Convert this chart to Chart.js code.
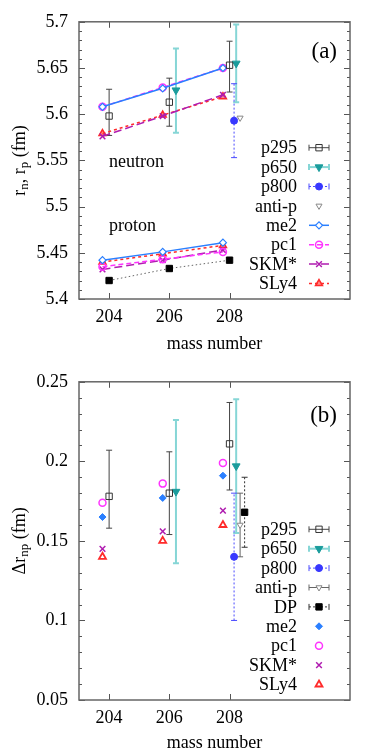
<!DOCTYPE html>
<html>
<head>
<meta charset="utf-8">
<script src="https://cdn.jsdelivr.net/npm/chart.js@4/dist/chart.umd.min.js"></script>
<style>
body { margin: 0; background: #fff; }
canvas { display: block; }
</style>
</head>
<body>
<canvas id="panelA" width="382" height="360"></canvas>
<canvas id="panelB" width="382" height="396"></canvas>
<script>
var massNumbers = [204, 206, 208];
var xTicks = [204, 206, 208];
var p650Mass = [206, 208];
var mass208 = [208];

// (a) neutron and proton radii (fm)
var rYTicks = [5.4, 5.45, 5.5, 5.55, 5.6, 5.65, 5.7];
var p295Rn = [5.598, 5.613, 5.653];
var p295RnLo = [5.577, 5.587, 5.624];
var p295RnHi = [5.627, 5.639, 5.679];
var p650Rn = [5.626, 5.655];
var p650RnLo = [5.580, 5.613];
var p650RnHi = [5.671, 5.697];
var p800Rn = [5.593];
var p800RnLo = [5.553];
var p800RnHi = [5.633];
var antipRn = [5.596];
var me2Rn = [5.608, 5.628, 5.650];
var pc1Rn = [5.608, 5.629, 5.650];
var skmRn = [5.576, 5.598, 5.621];
var sly4Rn = [5.579, 5.599, 5.619];
var expRp = [5.420, 5.433, 5.442];
var me2Rp = [5.442, 5.451, 5.461];
var pc1Rp = [5.435, 5.443, 5.451];
var skmRp = [5.432, 5.442, 5.453];
var sly4Rp = [5.440, 5.449, 5.458];

// (b) neutron skin thickness (fm)
var dYTicks = [0.05, 0.1, 0.15, 0.2, 0.25];
var p295Dr = [0.178, 0.180, 0.211];
var p295DrLo = [0.158, 0.154, 0.182];
var p295DrHi = [0.207, 0.206, 0.237];
var p650Dr = [0.181, 0.197];
var p650DrLo = [0.136, 0.155];
var p650DrHi = [0.226, 0.239];
var p800Dr = [0.140];
var p800DrLo = [0.100];
var p800DrHi = [0.180];
var antipDr = [0.160];
var antipDrLo = [0.140];
var antipDrHi = [0.180];
var dpDr = [0.168];
var dpDrLo = [0.146];
var dpDrHi = [0.190];
var me2Dr = [0.165, 0.177, 0.191];
var pc1Dr = [0.174, 0.186, 0.199];
var skmDr = [0.145, 0.156, 0.169];
var sly4Dr = [0.140, 0.150, 0.160];

var FONT = "'Liberation Serif', 'Times New Roman', serif";

function pts(masses, values, shift) {
  return masses.map(function (m, i) { return { x: m + shift, y: values[i] }; });
}

// vertical error bars, drawn under the markers
var errorBars = {
  id: 'errorBars',
  beforeDatasetsDraw: function (chart) {
    var ctx = chart.ctx, ys = chart.scales.y;
    chart.data.datasets.forEach(function (ds, i) {
      if (!ds.errLo) return;
      ctx.save();
      ctx.strokeStyle = ds.errColor;
      ctx.lineWidth = ds.errWidth || 1;
      chart.getDatasetMeta(i).data.forEach(function (pt, j) {
        var x = pt.x, y1 = ys.getPixelForValue(ds.errLo[j]), y2 = ys.getPixelForValue(ds.errHi[j]);
        ctx.setLineDash(ds.errDash || []);
        ctx.beginPath();
        ctx.moveTo(x, y1); ctx.lineTo(x, y2);
        ctx.stroke();
        ctx.setLineDash([]);
        ctx.beginPath();
        ctx.moveTo(x - 3, y1); ctx.lineTo(x + 3, y1);
        ctx.moveTo(x - 3, y2); ctx.lineTo(x + 3, y2);
        ctx.stroke();
      });
      ctx.restore();
    });
  }
};

// gnuplot style box with inward ticks on all sides
var frame = {
  id: 'frame',
  afterDatasetsDraw: function (chart) {
    var ctx = chart.ctx, a = chart.chartArea, xs = chart.scales.x, ys = chart.scales.y;
    ctx.save();
    ctx.strokeStyle = '#555';
    ctx.lineWidth = 1;
    ctx.beginPath();
    xs.ticks.forEach(function (t) {
      var px = Math.round(xs.getPixelForValue(t.value)) + 0.5;
      ctx.moveTo(px, a.bottom); ctx.lineTo(px, a.bottom - 6);
      ctx.moveTo(px, a.top); ctx.lineTo(px, a.top + 6);
    });
    var n = Math.round((ys.max - ys.min) / 0.01);
    for (var k = 0; k <= n; k++) {
      var major = k % 5 === 0;
      var py = Math.round(ys.getPixelForValue(ys.min + k * 0.01)) + 0.5;
      var len = major ? 6 : 3;
      ctx.moveTo(a.left, py); ctx.lineTo(a.left + len, py);
      ctx.moveTo(a.right, py); ctx.lineTo(a.right - len, py);
    }
    ctx.stroke();
    ctx.lineWidth = 1.5;
    ctx.strokeStyle = '#666';
    ctx.strokeRect(a.left, a.top, a.right - a.left, a.bottom - a.top);
    ctx.restore();
  }
};

// key inside the plot, text right aligned, sample on the right
var key = {
  id: 'key',
  afterDraw: function (chart) {
    var ctx = chart.ctx, a = chart.chartArea;
    var items = [];
    chart.data.datasets.forEach(function (ds, i) { if (ds.label) items.push(i); });
    var n = items.length;
    ctx.save();
    items.forEach(function (i, k) {
      var ds = chart.data.datasets[i];
      var yy = a.bottom - 15.5 - (n - 1 - k) * 19.4;
      var x1 = a.right - 41, x2 = a.right - 21, xc = (x1 + x2) / 2;
      ctx.font = '18px ' + FONT;
      ctx.fillStyle = '#000';
      ctx.textAlign = 'right';
      ctx.textBaseline = 'middle';
      ctx.fillText(ds.label, a.right - 53, yy + 1);
      if (ds.errLo) {
        ctx.strokeStyle = ds.errColor;
        ctx.lineWidth = ds.errWidth || 1;
        ctx.setLineDash(ds.errDash || []);
        ctx.beginPath(); ctx.moveTo(x1, yy); ctx.lineTo(x2, yy); ctx.stroke();
        ctx.setLineDash([]);
        ctx.beginPath();
        ctx.moveTo(x1, yy - 3); ctx.lineTo(x1, yy + 3);
        ctx.moveTo(x2, yy - 3); ctx.lineTo(x2, yy + 3);
        ctx.stroke();
      } else if (ds.showLine) {
        ctx.strokeStyle = ds.borderColor;
        ctx.lineWidth = ds.borderWidth;
        ctx.setLineDash(ds.borderDash || []);
        ctx.beginPath(); ctx.moveTo(x1, yy); ctx.lineTo(x2, yy); ctx.stroke();
      }
      var o = chart.getDatasetMeta(i).data[0].options;
      ctx.setLineDash([]);
      ctx.fillStyle = o.backgroundColor;
      ctx.strokeStyle = o.borderColor;
      ctx.lineWidth = o.borderWidth;
      Chart.helpers.drawPoint(ctx, o, xc, yy);
    });
    ctx.restore();
  }
};

function notes(tag, tagDy, yTitle, texts) {
  return {
    id: 'notes',
    afterDraw: function (chart) {
      var ctx = chart.ctx, a = chart.chartArea, xs = chart.scales.x, ys = chart.scales.y;
      ctx.save();
      ctx.fillStyle = '#000';
      ctx.textBaseline = 'middle';
      ctx.font = '23px ' + FONT;
      ctx.textAlign = 'right';
      ctx.fillText(tag, a.right - 13, a.top + tagDy);
      ctx.font = '18px ' + FONT;
      ctx.textAlign = 'left';
      texts.forEach(function (t) {
        ctx.fillText(t[0], xs.getPixelForValue(t[1]), ys.getPixelForValue(t[2]));
      });
      // rotated y title with subscripts
      var total = 0;
      yTitle.forEach(function (p) {
        ctx.font = (p[1] ? '13px ' : '18px ') + FONT;
        total += ctx.measureText(p[0]).width;
      });
      ctx.translate(20, (a.top + a.bottom) / 2);
      ctx.rotate(-Math.PI / 2);
      var x = -total / 2;
      yTitle.forEach(function (p) {
        ctx.font = (p[1] ? '13px ' : '18px ') + FONT;
        ctx.fillText(p[0], x, p[1] ? 5 : 0);
        x += ctx.measureText(p[0]).width;
      });
      ctx.restore();
    }
  };
}

function scales(yMin, yMax, yTicks, xTitlePad, xHeight) {
  return {
    x: {
      type: 'linear', min: 203, max: 212,
      afterBuildTicks: function (s) { s.ticks = xTicks.map(function (v) { return { value: v }; }); },
      afterFit: function (s) { s.height = xHeight; },
      grid: { display: false, drawTicks: false }, border: { display: false },
      ticks: { color: '#000', padding: 7, font: { family: FONT, size: 18 }, callback: function (v) { return String(v); } },
      title: { display: true, text: 'mass number', color: '#000', font: { family: FONT, size: 18 }, padding: { top: 0, bottom: xTitlePad } }
    },
    y: {
      type: 'linear', min: yMin, max: yMax,
      afterBuildTicks: function (s) { s.ticks = yTicks.map(function (v) { return { value: v }; }); },
      afterFit: function (s) { s.width = 79; },
      grid: { display: false, drawTicks: false }, border: { display: false },
      ticks: { color: '#000', padding: 11, font: { family: FONT, size: 18 }, callback: function (v) { return String(+v.toFixed(3)); } }
    }
  };
}

var base = {
  responsive: false,
  animation: false,
  events: [],
  layout: { padding: { left: 0, right: 32, top: 20, bottom: 0 } },
  plugins: { legend: { display: false }, tooltip: { enabled: false } }
};

function opts(extra) { return Object.assign({}, base, extra); }

var SH = -0.22;   // theory points drawn left of the mass number
var BLUE = '#2a7fff', MAG = '#ff33ff', PUR = '#b01cb0', RED = '#ff2a2a', TEAL = '#1a9c9c';

new Chart('panelA', {
  type: 'line',
  data: {
    datasets: [
      { label: 'p295', data: pts(massNumbers, p295Rn, 0), showLine: false, pointStyle: 'rect', pointRadius: 4.5,
        pointBorderColor: '#333', pointBackgroundColor: 'rgba(0,0,0,0)', pointBorderWidth: 1,
        errLo: p295RnLo, errHi: p295RnHi, errColor: '#444', errWidth: 1 },
      { label: 'p650', data: pts(p650Mass, p650Rn, 0.22), showLine: false, pointStyle: 'triangle', pointRotation: 180, pointRadius: 4.5,
        pointBorderColor: TEAL, pointBackgroundColor: TEAL, pointBorderWidth: 1,
        errLo: p650RnLo, errHi: p650RnHi, errColor: '#86d6d6', errWidth: 2 },
      { label: 'p800', data: pts(mass208, p800Rn, 0.15), showLine: false, pointStyle: 'circle', pointRadius: 3.5,
        pointBorderColor: '#3838ff', pointBackgroundColor: '#3838ff', pointBorderWidth: 1,
        errLo: p800RnLo, errHi: p800RnHi, errColor: '#4a4aff', errWidth: 1, errDash: [2, 2] },
      { label: 'anti-p', data: pts(mass208, antipRn, 0.35), showLine: false, pointStyle: 'triangle', pointRotation: 180, pointRadius: 3.5,
        pointBorderColor: '#888', pointBackgroundColor: '#fff', pointBorderWidth: 1 },
      { label: 'me2', data: pts(massNumbers, me2Rn, SH), showLine: true, borderColor: BLUE, borderWidth: 1.5,
        pointStyle: 'rectRot', pointRadius: 3.5, pointBorderColor: BLUE, pointBackgroundColor: '#fff', pointBorderWidth: 1.2 },
      { label: 'pc1', data: pts(massNumbers, pc1Rn, SH), showLine: true, borderColor: MAG, borderWidth: 1.5, borderDash: [5, 3],
        pointStyle: 'circle', pointRadius: 3.5, pointBorderColor: MAG, pointBackgroundColor: 'rgba(0,0,0,0)', pointBorderWidth: 1.5 },
      { label: 'SKM*', data: pts(massNumbers, skmRn, SH), showLine: true, borderColor: PUR, borderWidth: 1.5, borderDash: [8, 4],
        pointStyle: 'crossRot', pointRadius: 4, pointBorderColor: PUR, pointBorderWidth: 1.5 },
      { label: 'SLy4', data: pts(massNumbers, sly4Rn, SH), showLine: true, borderColor: RED, borderWidth: 1.5, borderDash: [3, 3],
        pointStyle: 'triangle', pointRadius: 4, pointBorderColor: RED, pointBackgroundColor: 'rgba(255,60,60,0.6)', pointBorderWidth: 1.5 },
      { data: pts(massNumbers, expRp, 0), showLine: true, borderColor: '#666', borderWidth: 1, borderDash: [1.5, 2.5],
        pointStyle: 'rect', pointRadius: 4.5, pointBorderColor: '#000', pointBackgroundColor: '#000', pointBorderWidth: 1 },
      { data: pts(massNumbers, me2Rp, SH), showLine: true, borderColor: BLUE, borderWidth: 1.5,
        pointStyle: 'rectRot', pointRadius: 3.5, pointBorderColor: BLUE, pointBackgroundColor: '#fff', pointBorderWidth: 1.2 },
      { data: pts(massNumbers, pc1Rp, SH), showLine: true, borderColor: MAG, borderWidth: 1.5, borderDash: [5, 3],
        pointStyle: 'circle', pointRadius: 3.5, pointBorderColor: MAG, pointBackgroundColor: 'rgba(0,0,0,0)', pointBorderWidth: 1.5 },
      { data: pts(massNumbers, skmRp, SH), showLine: true, borderColor: PUR, borderWidth: 1.5, borderDash: [8, 4],
        pointStyle: 'crossRot', pointRadius: 4, pointBorderColor: PUR, pointBorderWidth: 1.5 },
      { data: pts(massNumbers, sly4Rp, SH), showLine: true, borderColor: RED, borderWidth: 1.5, borderDash: [3, 3],
        pointStyle: 'triangle', pointRadius: 4, pointBorderColor: RED, pointBackgroundColor: 'rgba(255,60,60,0.6)', pointBorderWidth: 1.5 }
    ]
  },
  options: opts({ scales: scales(5.4, 5.7, rYTicks, 5, 61) }),
  plugins: [errorBars, frame, key,
    notes('(a)', 30, [['r', false], ['n', true], [', r', false], ['p', true], [' (fm)', false]],
      [['neutron', 204, 5.5476], ['proton', 204, 5.4785]])]
});

new Chart('panelB', {
  type: 'line',
  data: {
    datasets: [
      { label: 'p295', data: pts(massNumbers, p295Dr, 0), showLine: false, pointStyle: 'rect', pointRadius: 4.5,
        pointBorderColor: '#333', pointBackgroundColor: 'rgba(0,0,0,0)', pointBorderWidth: 1,
        errLo: p295DrLo, errHi: p295DrHi, errColor: '#444', errWidth: 1 },
      { label: 'p650', data: pts(p650Mass, p650Dr, 0.22), showLine: false, pointStyle: 'triangle', pointRotation: 180, pointRadius: 4.5,
        pointBorderColor: TEAL, pointBackgroundColor: TEAL, pointBorderWidth: 1,
        errLo: p650DrLo, errHi: p650DrHi, errColor: '#86d6d6', errWidth: 2 },
      { label: 'p800', data: pts(mass208, p800Dr, 0.15), showLine: false, pointStyle: 'circle', pointRadius: 3.5,
        pointBorderColor: '#3838ff', pointBackgroundColor: '#3838ff', pointBorderWidth: 1,
        errLo: p800DrLo, errHi: p800DrHi, errColor: '#4a4aff', errWidth: 1, errDash: [2, 2] },
      { label: 'anti-p', data: pts(mass208, antipDr, 0.35), showLine: false, pointStyle: 'triangle', pointRotation: 180, pointRadius: 3.5,
        pointBorderColor: '#888', pointBackgroundColor: '#fff', pointBorderWidth: 1,
        errLo: antipDrLo, errHi: antipDrHi, errColor: '#666', errWidth: 1 },
      { label: 'DP', data: pts(mass208, dpDr, 0.5), showLine: false, pointStyle: 'rect', pointRadius: 4.5,
        pointBorderColor: '#000', pointBackgroundColor: '#000', pointBorderWidth: 1,
        errLo: dpDrLo, errHi: dpDrHi, errColor: '#333', errWidth: 1, errDash: [2, 2] },
      { label: 'me2', data: pts(massNumbers, me2Dr, SH), showLine: false,
        pointStyle: 'rectRot', pointRadius: 3.5, pointBorderColor: BLUE, pointBackgroundColor: BLUE, pointBorderWidth: 1 },
      { label: 'pc1', data: pts(massNumbers, pc1Dr, SH), showLine: false,
        pointStyle: 'circle', pointRadius: 3.5, pointBorderColor: MAG, pointBackgroundColor: 'rgba(0,0,0,0)', pointBorderWidth: 1.5 },
      { label: 'SKM*', data: pts(massNumbers, skmDr, SH), showLine: false,
        pointStyle: 'crossRot', pointRadius: 4, pointBorderColor: PUR, pointBorderWidth: 1.5 },
      { label: 'SLy4', data: pts(massNumbers, sly4Dr, SH), showLine: false,
        pointStyle: 'triangle', pointRadius: 4, pointBorderColor: RED, pointBackgroundColor: '#fff', pointBorderWidth: 1.8 }
    ]
  },
  options: opts({ scales: scales(0.05, 0.25, dYTicks, 2, 56) }),
  plugins: [errorBars, frame, key,
    notes('(b)', 34, [['\u0394r', false], ['np', true], [' (fm)', false]], [])]
});
</script>
</body>
</html>
